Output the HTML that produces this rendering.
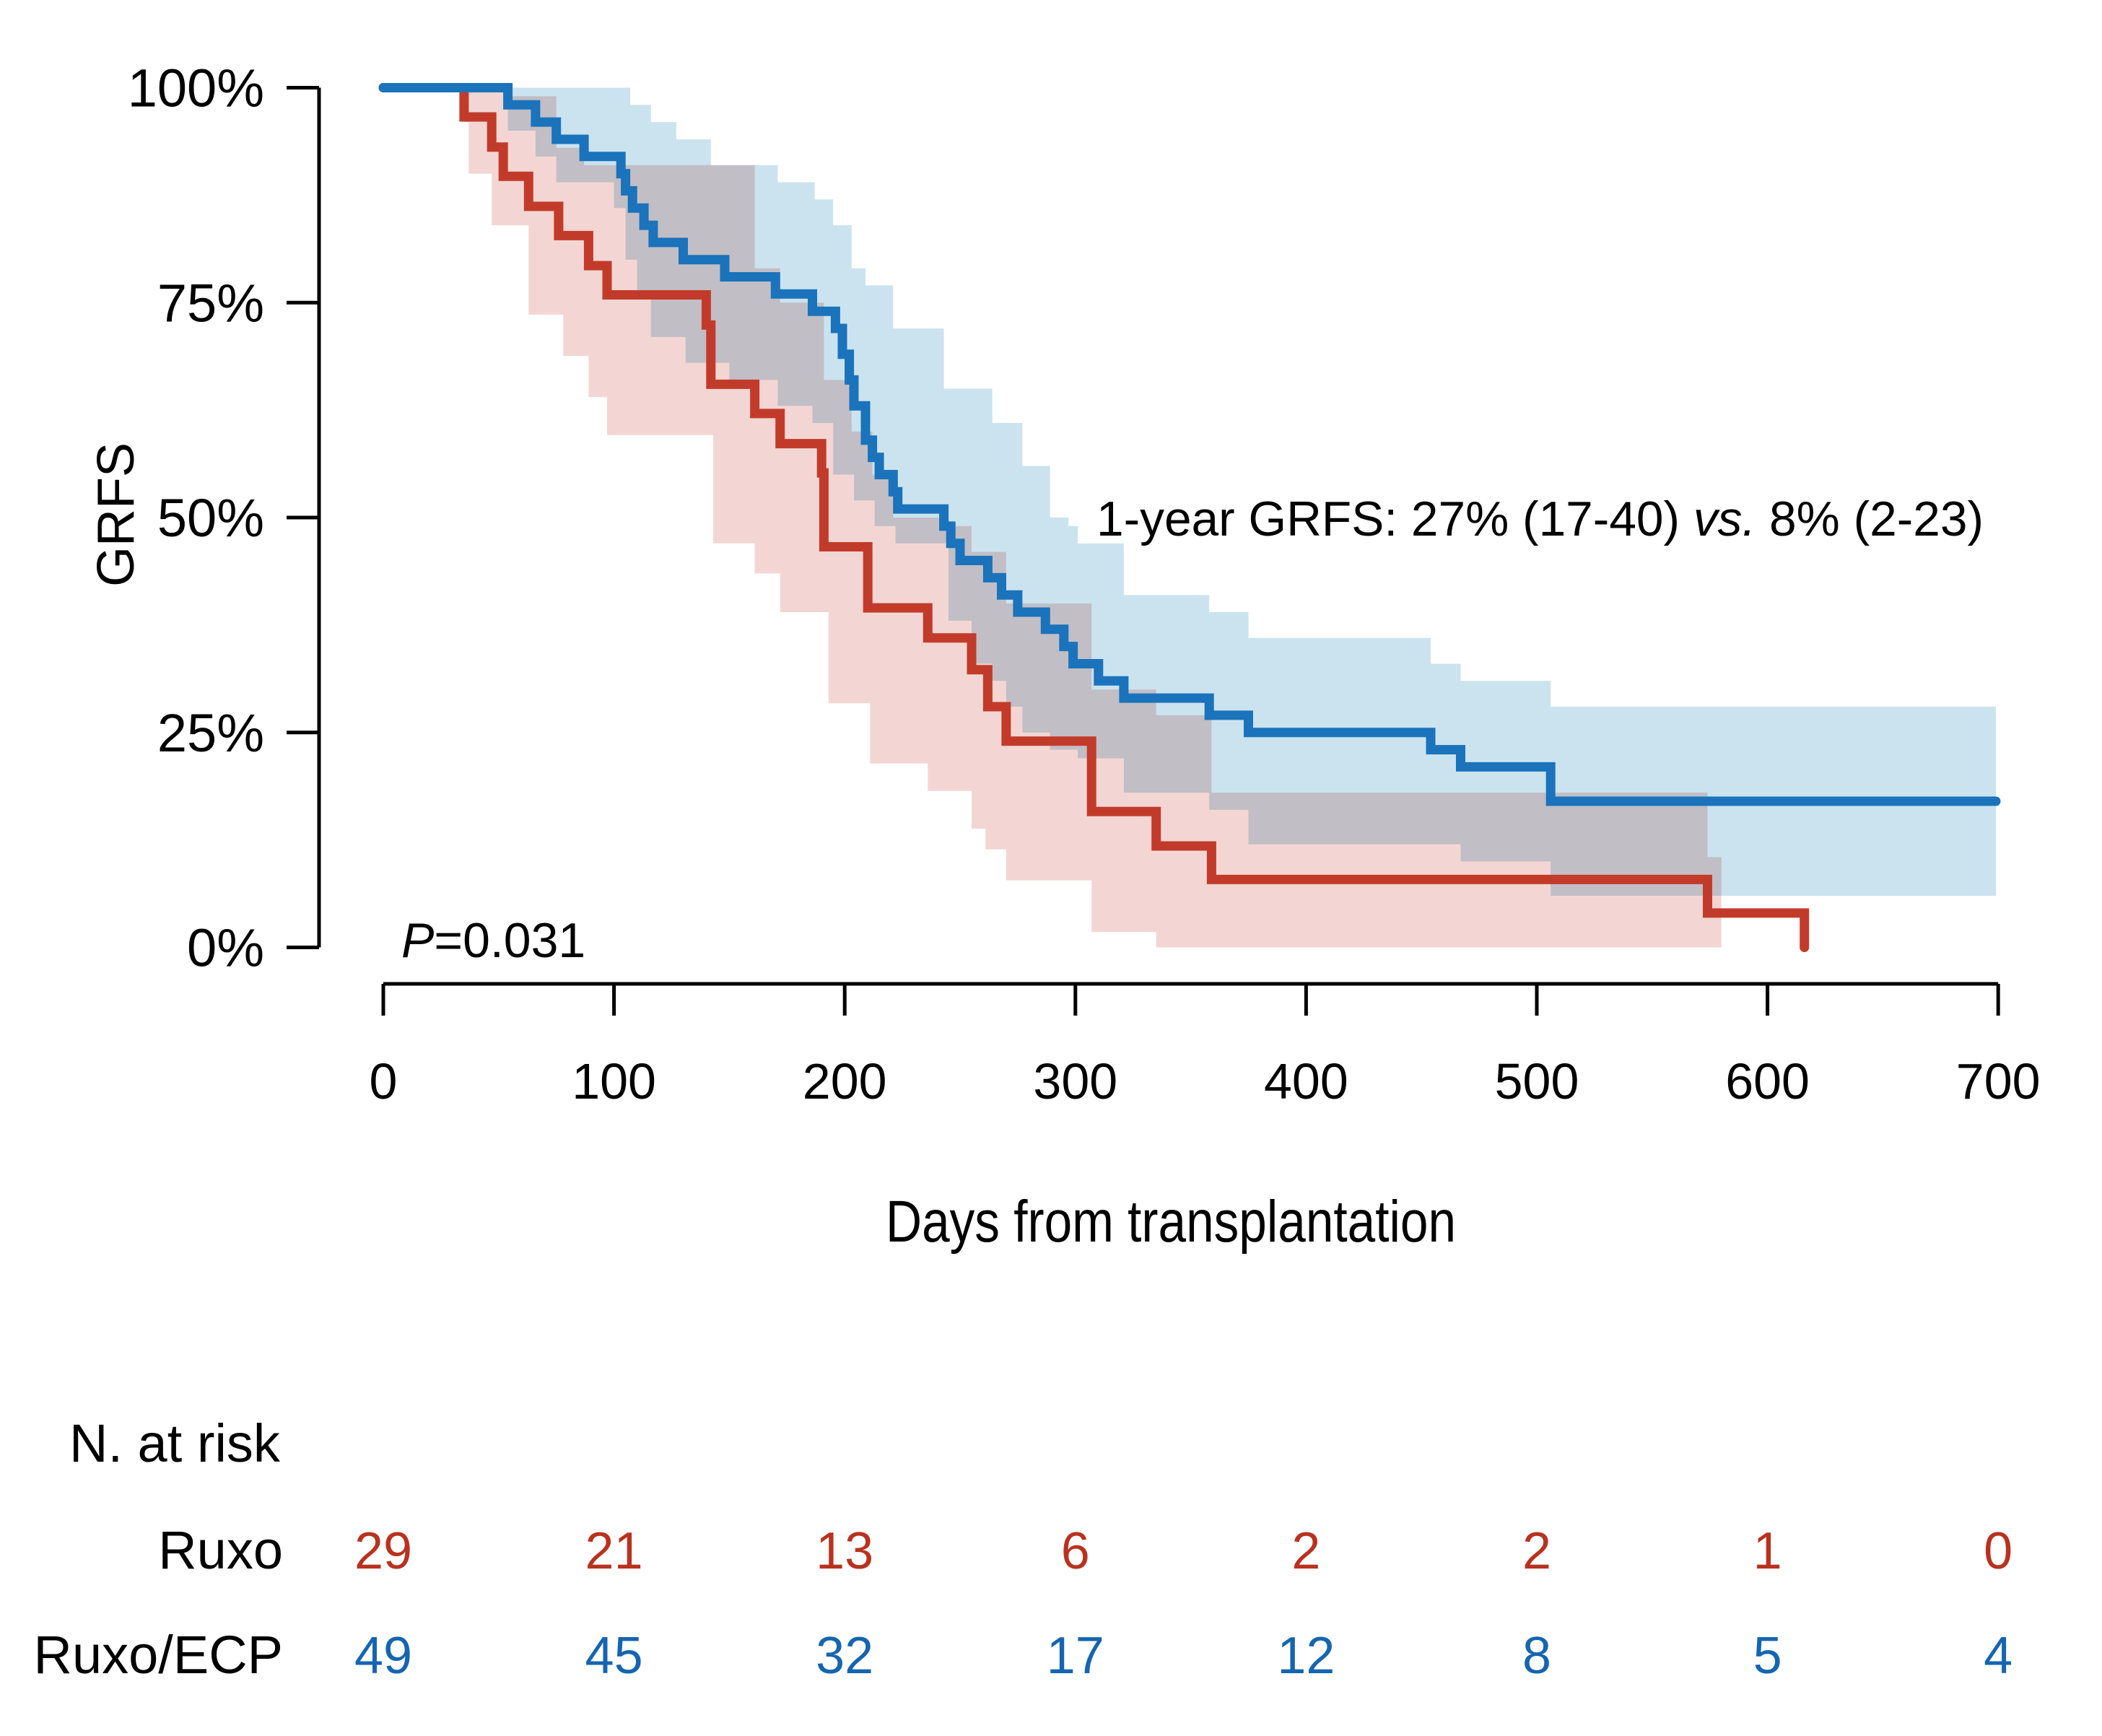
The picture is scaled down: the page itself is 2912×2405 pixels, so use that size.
<!DOCTYPE html>
<html><head><meta charset="utf-8"><style>
html,body{margin:0;padding:0;background:#fff;}
svg{display:block;font-family:"Liberation Sans",Arial,sans-serif;}
</style></head><body>
<svg id="chart" width="2912" height="2405" viewBox="0 0 2912 2405" xmlns="http://www.w3.org/2000/svg">
<rect width="2912" height="2405" fill="#fff"/>
<g id="bands" style="isolation:isolate"></g>
<g id="lines"></g>
<g id="axes" stroke="#000" stroke-width="5" fill="none"></g>
<g id="labels" fill="#000"></g>
</svg>
<script>
// ---- data ----
const xTicks = [0,100,200,300,400,500,600,700];
const yTicks = [0,25,50,75,100];
const yTickLabels = ["0%","25%","50%","75%","100%"];
const ruxoTimes = [0,35,47,52,63,76,89,97,140,142,161,172,190,191,210,236,255,262,270,307,335,359,574];
const ruxoSurv  = [100,96.6,93.1,89.7,86.2,82.8,79.3,75.9,72.4,65.5,62.1,58.6,55.2,46.6,39.5,36,32.3,28,24,15.8,11.8,7.9,4];
const ruxoEnd = 616;
const ecpTimes = [0,54,66,75,87,103,105,108,113,117,130,148,170,186,196,199,202,204,209,212,215,221,223,243,246,250,262,268,275,287,295,299,310,321,358,375,454,467,506];
const ecpSurv  = [100,98,96,94,92,90,88,86,84,82,80,78,76,74,72,69,66,63,59,57,55,53,51,49,47,45,43,41,39,37,35,33,31,29,27,25,23,21,17];
const ecpEnd = 699;
const ecpUpperT = [0,107,116,127,142,171,187,195,203,209,221,243,264,277,289,297,301,321,358,375,454,467,506];
const ecpUpperV = [100,98,96,94,91,89,87,84,79,77,72,65,61,56,50,49,47,41,39,36,33,31,28];
const ecpLowerT = [0,54,66,75,100,105,110,116,131,150,171,186,195,204,213,222,245,255,264,270,277,289,301,321,358,375,454,467,506];
const ecpLowerV = [100,95,92,89,86,80,76,71,68,66,63,61,55,52,49,47,38,33,31,28,25,23,22,18,16,12,12,10,6];
const ruxoUpperT = [0,35,54,75,87,161,172,191,203,212,221,245,255,270,307,335,359,574];
const ruxoUpperV = [100,100,99,93,91,79,75,66,60,55,50,49,46,40,30,27,18,10.5];
const ruxoLowerT = [0,35,37,47,63,78,89,97,143,161,172,193,211,236,255,261,270,307,335];
const ruxoLowerV = [100,96,90,84,73.6,68.8,64,59.6,47,43.5,39,28.4,21.4,18.2,13.8,11.4,7.8,1.8,0];
const bandEnd = 580;
const riskRuxo = [29,21,13,6,2,2,1,0];
const riskEcp  = [49,45,32,17,12,8,5,4];

// ---- axes functions ----
const X0 = 531, XS = 319.6/100;
const Y0 = 1312.5, YS = 11.91;
const sx = d => X0 + d*XS;
const sy = p => Y0 - p*YS;
const NS = "http://www.w3.org/2000/svg";
function mk(tag, parent){ const e=document.createElementNS(NS,tag); parent.appendChild(e); return e; }

function stepPts(ts, vs, end){
  const pts=[];
  for(let i=0;i<ts.length;i++){
    const t2 = i+1<ts.length ? ts[i+1] : end;
    pts.push([sx(ts[i]),sy(vs[i])],[sx(t2),sy(vs[i])]);
  }
  return pts;
}
function bandPath(ut,uv,lt,lv,end){
  const up=stepPts(ut,uv,end), lo=stepPts(lt,lv,end).reverse();
  return "M"+up.concat(lo).map(p=>p[0].toFixed(1)+","+p[1].toFixed(1)).join("L")+"Z";
}
const bands=document.getElementById('bands');
const rb=mk('path',bands);
rb.setAttribute('d',bandPath(ruxoUpperT,ruxoUpperV,ruxoLowerT,ruxoLowerV,bandEnd));
rb.setAttribute('fill','#f3d6d3');


const eb=mk('path',bands);
eb.setAttribute('d',bandPath(ecpUpperT,ecpUpperV,ecpLowerT,ecpLowerV,ecpEnd));
eb.setAttribute('fill','#cbe3ef');
eb.setAttribute('style','mix-blend-mode:multiply');



const lines=document.getElementById('lines');
function drawLine(ts,vs,end,color,name,dropTo){
  const pts=stepPts(ts,vs,end);
  if(dropTo!==undefined) pts.push([sx(end),sy(dropTo)]);
  const p=mk('path',lines);
  p.setAttribute('d',"M"+pts.map(q=>q[0].toFixed(1)+","+q[1].toFixed(1)).join("L"));
  p.setAttribute('fill','none');
  p.setAttribute('stroke',color);
  p.setAttribute('stroke-width','13');
  p.setAttribute('stroke-linecap','round');
  p.setAttribute('stroke-linejoin','miter');
  
  
}
drawLine(ruxoTimes,ruxoSurv,ruxoEnd,'#c23b2a','ruxo-survival-line',0);
drawLine(ecpTimes,ecpSurv,ecpEnd,'#1a73bb','ruxo-ecp-survival-line');

// axes
const axes=document.getElementById('axes');
const ya=mk('path',axes);
ya.setAttribute('d',`M442,${sy(100)}V${sy(0)}`+yTicks.map(v=>`M397,${sy(v)}H442`).join(''));


const xa=mk('path',axes);
xa.setAttribute('d',`M${sx(0)},1363H${sx(700)}`+xTicks.map(v=>`M${sx(v)},1363V1407`).join(''));



const labels=document.getElementById('labels');
function txt(s,x,y,size,anchor,name,fill){
  const t=mk('text',labels);
  t.textContent=s;
  t.setAttribute('x',x); t.setAttribute('y',y);
  t.setAttribute('font-size',size);
  t.setAttribute('text-anchor',anchor);
  if(fill) t.setAttribute('fill',fill);
  return t;
}
yTicks.forEach((v,i)=>{
  const t=txt(yTickLabels[i],366,sy(v)+26,74,'end');
  
  
});
xTicks.forEach(v=>{
  const t=txt(String(v),sx(v),1522,70,'middle');
  
  
});
riskRuxo.forEach((n,i)=>{
  const t=txt(String(n),sx(xTicks[i]),2173,72,'middle','','#b8321f');
  
  
});
riskEcp.forEach((n,i)=>{
  const t=txt(String(n),sx(xTicks[i]),2318,72,'middle','','#1565b0');
  
  
});
let t;
t=txt('GRFS',0,0,72,'middle');
t.setAttribute('transform','translate(185,713) rotate(-90)');


t=txt('Days from transplantation',1622,1720,82,'middle');
t.setAttribute('textLength','790');
t.setAttribute('lengthAdjust','spacingAndGlyphs');


t=txt('N. at risk',96,2025,74,'start');


t=txt('Ruxo',392,2173,74,'end');


t=txt('Ruxo/ECP',392,2318,74,'end');



t=mk('text',labels);
t.setAttribute('x',556); t.setAttribute('y',1326); t.setAttribute('font-size',68);
t.innerHTML='<tspan font-style="italic">P</tspan>=0.031';



t=mk('text',labels);
t.setAttribute('x',1519); t.setAttribute('y',742); t.setAttribute('font-size',68);
t.setAttribute('textLength','1229');
t.setAttribute('lengthAdjust','spacingAndGlyphs');
t.innerHTML='1-year GRFS: 27% (17-40) <tspan font-style="italic">vs.</tspan> 8% (2-23)';


</script>
</body></html>
